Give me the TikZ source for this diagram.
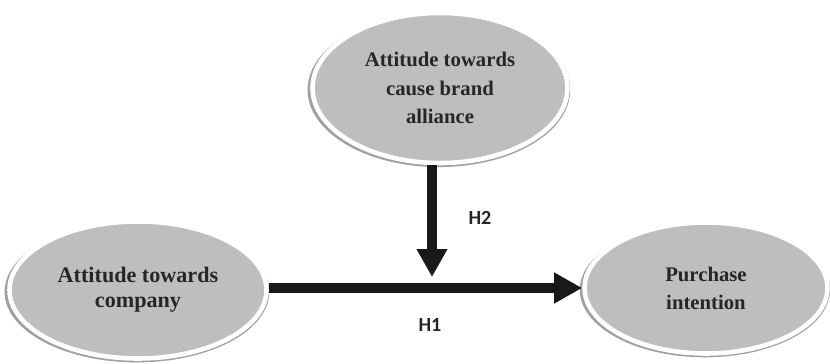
\documentclass[tikz,border=0pt]{standalone}
\usepackage{fontspec}
\setmainfont{Liberation Serif}
\newfontfamily\hypfont{Carlito}
\usepackage{tikz}
\usetikzlibrary{positioning, arrows.meta, shapes, shadows, calc}
\usepackage{xcolor}
\definecolor{ovalgray}{RGB}{190,190,193}
\definecolor{rimgray}{RGB}{160,160,162}

\tikzset{
  oval/.style={ellipse, fill=ovalgray, draw=white, line width=1.3pt,
    general shadow={fill=rimgray, shadow scale=1.03, shadow xshift=-0.3pt, shadow yshift=-0.5pt},
    inner sep=0pt, align=center,
    text=black!85, font=\bfseries\fontsize{5.9}{8}\selectfont},
  bigarrow/.style={line width=1mm, black!90, -{Triangle[length=2.8mm, width=2.9mm]}},
  hyp/.style={text=black!85, font=\hypfont\bfseries\fontsize{5.7}{7}\selectfont}
}

\begin{document}
\begin{tikzpicture}
\useasboundingbox (0,0) rectangle (8.30,3.63);
% constructs
\node[oval, minimum width=2.55cm, minimum height=1.50cm] (alliance) at (4.40, 2.75) {Attitude towards\\cause brand\\alliance};
\node[oval, minimum width=2.57cm, minimum height=1.37cm, font=\bfseries\fontsize{6.3}{7.2}\selectfont] (company) at (1.38, 0.73) {Attitude towards\\company};
\node[oval, minimum width=2.43cm, minimum height=1.31cm] (purchase) at (7.06, 0.75) {Purchase\\intention};

% paths
\coordinate (h2tip) at (4.32, 0.86);
\draw[bigarrow] (company.east |- purchase.west) -- (purchase.west);
\draw[bigarrow] (alliance.south -| h2tip) -- (h2tip);

% hypotheses
\node[hyp] (h2) at (4.80, 1.45) {H2};
\node[hyp] (h1) at (4.30, 0.38) {H1};
\end{tikzpicture}
\end{document}
